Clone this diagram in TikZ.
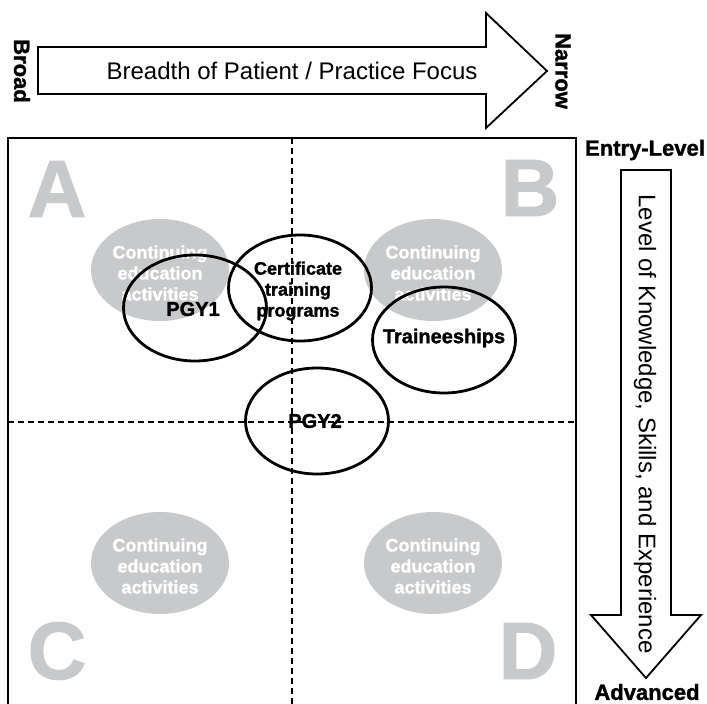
\documentclass[tikz,border=0pt]{standalone}
\usepackage{fontspec}
\setmainfont{Liberation Sans}[BoldFeatures={FakeBold=1.5}]
\usetikzlibrary{shapes.geometric}
\definecolor{cegray}{RGB}{200,201,203}

\tikzset{ce/.style={ellipse, fill=cegray, minimum width=138pt, minimum height=102pt, inner sep=0pt}}
\tikzset{cetxt/.style={text=white, font=\fontsize{18}{21}\selectfont\bfseries, align=center}}

\begin{document}
\begin{tikzpicture}[x=1pt, y=-1pt]
\tikzstyle{prog}=[ellipse, draw, line width=2.8pt, minimum width=143pt, minimum height=106pt, inner sep=0pt]
\tikzstyle{progtxt}=[font=\fontsize{20}{21}\selectfont\bfseries, align=center]
\tikzstyle{quad}=[text=cegray, inner sep=0pt, font=\fontsize{81}{81}\selectfont\bfseries]
\tikzstyle{lbl}=[inner sep=0pt, font=\fontsize{22}{22}\selectfont\bfseries]
\tikzstyle{axis}=[inner sep=0pt, font=\fontsize{24}{24}\selectfont]
\tikzstyle{bigarrow}=[draw, line width=1.8pt, fill=white]
\useasboundingbox (0,0) rectangle (707,704);

% frame and quadrant letters
\coordinate (nw) at (8,138);
\coordinate (ne) at (576,138);
\draw[line width=2pt] (8,704) -- (nw) -- (ne) -- (576,704);
\node[quad] (qa) at (57,189) {A};
\node[quad] (qb) at (530,188) {B};
\node[quad] (qc) at (57,651) {C};
\node[quad] (qd) at (528,651) {D};

% continuing education
\node[ce] (cea) at (160,270) {};
\node[ce] (ceb) at (433,270) {};
\node[ce] (cec) at (160,563) {};
\node[ce] (ced) at (433,563) {};
\foreach \q in {cea,ceb,cec,ced}
  \node[cetxt] (\q txt) at ([yshift=-3pt]\q) {Continuing\\education\\activities};

% programs
\node[prog] (pgy1) at (195,308) {};
\node[prog] (cert) at (300,288) {};
\node[prog] (trainee) at (444,340) {};
\node[prog] (pgy2) at (317,421) {};
\node[progtxt] (pgy1txt) at (193,309) {PGY1};
\node[progtxt, font=\fontsize{18}{21}\selectfont\bfseries] (certtxt) at (298,291) {Certificate\\training\\programs};
\node[progtxt] (traineetxt) at (444,338) {Traineeships};
\node[progtxt] (pgy2txt) at (315,421) {PGY2};

% quadrant dividers
\coordinate (vtop) at (292,138);
\coordinate (vbot) at (292,704);
\coordinate (hl) at (8,422);
\coordinate (hr) at (576,422);
\draw[dash pattern=on 6pt off 4pt, line width=1.4pt] (vtop) -- (vbot);
\draw[dash pattern=on 6pt off 4pt, line width=1.4pt] (hl) -- (hr);

% breadth arrow
\draw[bigarrow] (38,47) -- (486,47) -- (486,13) -- (547,71) -- (486,128) -- (486,94) -- (38,94) -- cycle;
\node[axis] (breadth) at (292,71) {Breadth of Patient / Practice Focus};
\node[lbl, rotate=-90] (broad) at (22,71) {Broad};
\node[lbl, rotate=-90] (narrow) at (563,71) {Narrow};

% level arrow
\draw[bigarrow] (621,170) -- (671,170) -- (671,615) -- (701,615) -- (646,678) -- (591,615) -- (621,615) -- cycle;
\node[axis, rotate=-90] (level) at (645,424) {Level of Knowledge, Skills, and Experience};
\node[lbl] (entry) at (645,150) {Entry-Level};
\node[lbl] (adv) at (647,692) {Advanced};
\end{tikzpicture}
\end{document}
